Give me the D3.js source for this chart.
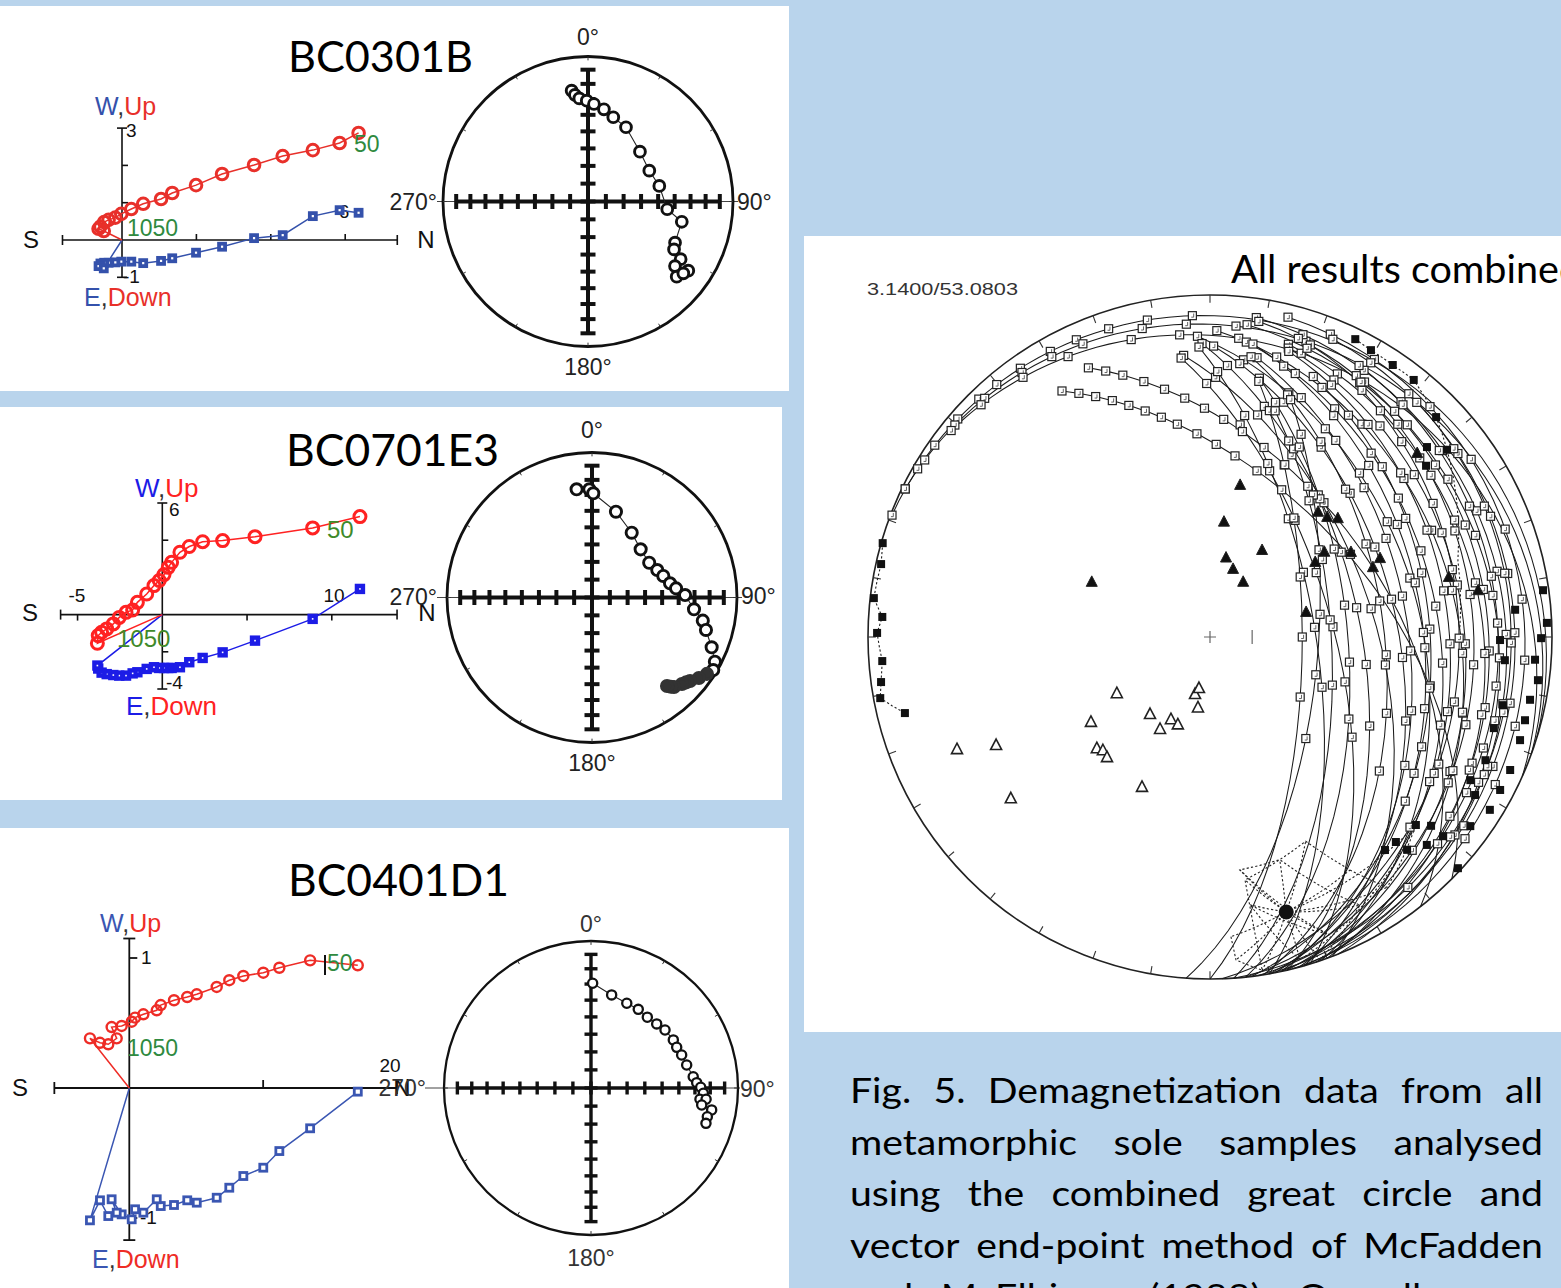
<!DOCTYPE html>
<html>
<head>
<meta charset="utf-8">
<script src="https://cdn.jsdelivr.net/npm/d3@7"></script>
<style>
  html, body { margin: 0; padding: 0; background: #b9d4ec; }
  svg { display: block; }
</style>
</head>
<body>
<svg id="fig" width="1561" height="1288"></svg>
<script>
// ---------------------------------------------------------------
// Specimen BC0301B : orthogonal vector components (steps 50 -> 1050)
// ---------------------------------------------------------------
const b1North = [6.36, 5.85, 5.13, 4.32, 3.55, 2.69, 1.99, 1.35, 1.05, 0.57, 0.25, -0.02, -0.18, -0.36, -0.48, -0.58, -0.63, -0.49];
const b1Up    = [2.87, 2.60, 2.41, 2.25, 2.01, 1.77, 1.47, 1.26, 1.10, 0.97, 0.83, 0.70, 0.60, 0.54, 0.48, 0.36, 0.30, 0.24];
const b1West  = [0.73, 0.80, 0.64, 0.13, 0.05, -0.18, -0.34, -0.49, -0.56, -0.62, -0.58, -0.58, -0.60, -0.61, -0.61, -0.63, -0.70, -0.76];
// directions (declination / inclination, negative = upper hemisphere)
const b1Dec = [351.6, 353.0, 355.2, 359.3, 3.5, 9.8, 16.7, 27.1, 46.2, 63.3, 77.7, 95.6, 102.2, 115.3, 119.1, 121.9, 126.6, 124.6, 130.3, 127.0];
const b1Inc = [-23.8, -26.8, -29.4, -31.1, -33.1, -35.7, -39.2, -42.0, -48.9, -50.9, -48.3, -44.3, -34.2, -34.0, -32.6, -25.7, -26.2, -17.1, -20.9, -18.8];

// ---------------------------------------------------------------
// Specimen BC0701E3
// ---------------------------------------------------------------
const b2North = [11.66, 8.87, 5.47, 3.56, 2.38, 1.59, 1.04, 0.55, 0.35, 0.10, -0.18, -0.49, -0.92, -1.47, -1.75, -2.14, -2.54, -2.89, -3.28, -3.58, -3.78, -3.83];
const b2Up    = [5.27, 4.66, 4.19, 3.98, 3.92, 3.66, 3.35, 2.81, 2.54, 2.15, 1.83, 1.56, 1.11, 0.66, 0.25, 0.12, -0.15, -0.50, -0.77, -0.95, -1.13, -1.54];
const b2West  = [1.38, -0.23, -1.40, -2.03, -2.33, -2.56, -2.83, -2.87, -2.87, -2.87, -2.87, -2.83, -2.92, -3.10, -3.16, -3.28, -3.28, -3.25, -3.20, -3.12, -2.90, -2.74];
const b2Dec = [351.9, 358.6, 0.7, 15.6, 31.5, 45.3, 58.7, 67.2, 73.2, 79.7, 83.8, 88.5, 96.6, 101.8, 105.9, 112.6, 117.6, 120.9, 123.6, 127.0, 130.4, 132.0, 133.9, 137.5, 138.5, 139.7];
const b2Inc = [-25.6, -26.3, -28.9, -38.5, -46.5, -51.0, -51.9, -49.6, -47.4, -44.5, -41.3, -36.0, -29.9, -23.0, -19.4, -11.6, -4.9, -2.9, 5.4, 8.5, 12.2, 13.6, 15.0, 17.4, 19.0, 21.1];

// ---------------------------------------------------------------
// Specimen BC0401D1
// ---------------------------------------------------------------
const b3North = [17.07, 13.51, 11.21, 10.01, 8.52, 7.47, 6.53, 5.04, 4.33, 3.34, 2.35, 2.05, 1.05, 0.43, 0.18, -0.57, -1.32, -0.94, -1.57, -2.19, -2.94];
const b3Up    = [0.944, 0.982, 0.925, 0.887, 0.862, 0.829, 0.777, 0.721, 0.700, 0.675, 0.638, 0.598, 0.567, 0.541, 0.510, 0.477, 0.469, 0.382, 0.336, 0.348, 0.382];
const b3West  = [-0.028, -0.310, -0.485, -0.613, -0.677, -0.767, -0.844, -0.882, -0.864, -0.900, -0.908, -0.856, -0.959, -0.933, -1.010, -0.972, -0.856, -0.959, -0.985, -0.864, -1.018];
const b3Dec = [0.9, 12.5, 22.9, 31.0, 38.5, 45.7, 51.9, 59.7, 64.6, 70.0, 76.5, 83.7, 87.1, 89.6, 92.7, 95.9, 95.6, 98.7, 100.3, 103.9, 107.1];
const b3Inc = [-29.5, -35.4, -37.5, -37.6, -38.4, -37.6, -36.2, -35.4, -35.7, -34.7, -33.5, -30.7, -28.8, -26.3, -24.5, -26.4, -22.4, -24.8, -17.7, -19.6, -19.3];

// ---------------------------------------------------------------
// All specimens combined
// ---------------------------------------------------------------
// remagnetisation great circles: dip direction and dip of each plane
const circleDipDir = [17, 20, 24, 76, 80, 74, 82, 78, 72, 84, 77, 70, 80, 75, 83, 71, 78, 74, 81, 69, 77, 84, 73, 80, 90, 94, 86, 68, 86, 45, 52, 88, 79];
const circleDip    = [7, 10, 14, 9, 12, 15, 17, 20, 22, 24, 27, 29, 31, 34, 36, 39, 42, 45, 48, 51, 54, 57, 61, 65, 68, 64, 61, 18, 13, 52, 48, 28, 38];
// demagnetisation steps on each circle: angle (deg) from the circle's northern end
const circleSteps = [
  [4, 9, 13, 18, 24, 29, 33, 38, 44, 49, 55, 62, 70],
  [6, 12, 20, 27, 35, 41, 47, 58, 66, 75, 88],
  [15, 22, 31, 40, 52, 61, 72, 84, 97],
  [28, 36, 45, 58, 70, 84, 97, 108, 120, 131, 142],
  [33, 41, 52, 64, 77, 88, 99, 112, 124, 136],
  [25, 34, 47, 56, 68, 81, 93, 105, 118, 130, 144],
  [38, 49, 60, 72, 86, 95, 107, 119, 128, 139],
  [22, 30, 43, 53, 66, 79, 92, 104, 115, 126, 137],
  [35, 46, 57, 69, 83, 96, 110, 122, 133],
  [27, 39, 50, 62, 74, 87, 101, 113, 125, 140],
  [31, 42, 55, 67, 80, 91, 103, 117, 129],
  [24, 37, 48, 59, 73, 85, 98, 111, 123, 135],
  [29, 40, 51, 63, 76, 89, 100, 114, 127],
  [26, 38, 49, 61, 72, 84, 96, 108, 121, 133],
  [34, 45, 58, 70, 82, 94, 106, 119, 131],
  [21, 32, 44, 55, 67, 79, 92, 104, 116],
  [28, 41, 53, 65, 77, 90, 102, 115, 127],
  [23, 30, 43, 56, 68, 81, 93, 106, 120],
  [25, 37, 50, 62, 75, 88, 100, 113, 126],
  [24, 33, 46, 58, 71, 84, 97, 110],
  [19, 27, 40, 52, 64, 78, 91, 104, 118],
  [29, 36, 48, 61, 73, 86, 99, 112],
  [22, 31, 44, 57, 70, 83, 96, 109, 122],
  [18, 26, 39, 52, 66, 79, 92, 106],
  [27, 35, 49, 62, 76, 90, 104],
  [31, 40, 55, 68, 83, 97, 112],
  [37, 45, 60, 74, 88, 103],
  [30, 42, 54, 66, 79, 91, 103, 115, 127, 139],
  [44, 57, 69, 82, 95, 108, 120, 133, 145],
  [22, 26, 30, 34, 38, 42, 46, 50, 55, 60, 65, 71, 78],
  [20, 24, 28, 33, 38, 43, 48, 53, 58, 64, 70, 77],
  [37, 50, 64, 78, 92, 105, 118, 132],
  [24, 32, 47, 60, 74, 87, 101, 114, 128]
];
// stable end-point directions (filled squares)
const endDec = [286.0, 282.5, 276.6, 273.5, 270.7, 265.8, 262.2, 259.5, 256.0,
  26.0, 29.3, 33.9, 38.4, 45.8, 48.8, 51.7, 51.6,
  82.0, 87.6, 90.2, 103.1, 107.8, 101.1, 108.4, 113.9, 117.8, 121.7, 120.8, 94.0, 97.5, 104.8,
  90.6, 84.9, 94.5, 114.1, 118.8,
  132.4, 130.5, 130.5, 133.0, 133.8, 137.2, 140.6, 137.8, 126.0];
const endInc = [0.5, 1.7, 1.2, 4.5, 3.0, 4.4, 3.3, 2.2, 8.9,
  3.5, 4.3, 4.7, 4.6, 8.6, 16.8, 12.7, 20.5,
  1.9, 1.6, 3.6, 13.1, 13.9, 5.2, 5.0, 4.5, 4.6, 4.3, 10.7, 5.3, 3.7, 5.3,
  16.3, 11.4, 14.6, 12.8, 14.2,
  19.6, 16.1, 11.3, 1.0, 13.2, 16.3, 20.5, 20.2, 6.6];
// site directions: filled triangles (lower) and open triangles (upper hemisphere)
const triDownDec = [295.0, 6.9, 11.2, 30.9, 11.4, 18.7, 31.0, 75.4, 54.5, 53.3, 40.8, 44.3, 47.1, 58.9, 66.8, 65.1, 48.4, 75.9, 80.1];
const triDownInc = [58.7, 62.2, 52.6, 65.8, 70.7, 72.9, 74.7, 66.3, 59.0, 55.7, 50.0, 49.4, 47.7, 50.2, 47.0, 44.4, 20.1, 28.8, 21.5];
const triUpDec = [238.9, 234.5, 217.9, 205.4, 200.2, 208.5, 194.7, 192.2, 189.7, 225.5, 223.4, 220.6, 204.4, 231.0, 246.1, 243.2];
const triUpInc = [-64.0, -54.8, -66.7, -68.3, -67.8, -65.0, -76.0, -77.6, -73.0, -51.7, -52.4, -51.8, -50.2, -26.0, -20.2, -30.6];
// overall mean direction and its links to nearby circle ends
const meanDec = 164.5, meanInc = 17.7;
const linkDec = [176.0, 175.4, 171.1, 171.8, 154.9, 149.0, 144.7, 132.4, 164.4, 171.5, 158.1, 172.7, 162.6, 150.8, 161.2];
const linkInc = [13.2, 5.9, 1.6, 29.0, 34.4, 21.6, 11.3, 19.6, 2.3, 21.9, 6.9, 31.9, 32.3, 11.1, 0.3];
// dotted end-point traces near the primitive
const traceEastDec = [26.0, 29.3, 33.9, 38.4, 45.8, 57.2, 72.8, 88.4];
const traceEastInc = [3.5, 4.3, 4.7, 4.6, 8.6, 16.3, 25.1, 27.8];
const traceWestDec = [286.0, 282.5, 276.6, 273.5, 270.7, 265.8, 262.2, 259.5, 256.0];
const traceWestInc = [0.5, 1.7, 1.2, 4.5, 3.0, 4.4, 3.3, 2.2, 8.9];

const captionLines = [
  "Fig. 5. Demagnetization data from all",
  "metamorphic sole samples analysed",
  "using the combined great circle and",
  "vector end-point method of McFadden",
  "and McElhinny (1988). Overall mean"
];

// ---------------------------------------------------------------
const svg = d3.select("#fig");
const SANS = "'Liberation Sans', Arial, Helvetica, sans-serif";
const HUMAN = "Lato, 'Open Sans', sans-serif";

// white panels on the blue slide
[[0, 6, 789, 385], [0, 407, 782, 393], [0, 828, 789, 460], [804, 236, 757, 796]].forEach(([x, y, w, h]) =>
  svg.append("rect").attr("x", x).attr("y", y).attr("width", w).attr("height", h).attr("fill", "#ffffff"));

function txt(g, s, x, y, size, opts = {}) {
  return g.append("text").attr("x", x).attr("y", y)
    .attr("font-family", opts.family || SANS).attr("font-size", size)
    .attr("fill", opts.fill || "#111").attr("text-anchor", opts.anchor || "start").text(s);
}

// ---------------- Zijderveld diagram ----------------
function drawZijderveld(s) {
  const g = svg.append("g");
  const x = d3.scaleLinear().domain(s.xDomain).range(s.xRange);
  const y = d3.scaleLinear().domain(s.yDomain).range(s.yRange);
  const x0 = x(0), y0 = y(0);
  const ax = g.append("g").attr("stroke", "#111").attr("stroke-width", s.axisWidth).attr("fill", "none");
  ax.append("line").attr("x1", x(s.xEnds[0])).attr("x2", x(s.xEnds[1])).attr("y1", y0).attr("y2", y0);
  s.xEnds.forEach(v => ax.append("line").attr("x1", x(v)).attr("x2", x(v)).attr("y1", y0 - s.cap).attr("y2", y0 + s.cap));
  s.xTicks.forEach(v => ax.append("line").attr("x1", x(v)).attr("x2", x(v)).attr("y1", y0).attr("y2", y0 + s.xTickDir * s.tick));
  ax.append("line").attr("x1", x0).attr("x2", x0).attr("y1", y(s.yEnds[0])).attr("y2", y(s.yEnds[1]));
  s.yEnds.forEach(v => ax.append("line").attr("x1", x0 - s.cap).attr("x2", x0 + s.cap).attr("y1", y(v)).attr("y2", y(v)));
  s.yTicks.forEach(v => ax.append("line").attr("x1", x0).attr("x2", x0 + s.tick).attr("y1", y(v)).attr("y2", y(v)));

  // axis and step labels
  s.labels.forEach(l => txt(g, l.t, l.x, l.y, l.size, { fill: l.fill, anchor: l.anchor }));
  [[s.wUp, "W", "Up"], [s.eDown, "E", "Down"]].forEach(([p, a, b]) => {
    const t = g.append("text").attr("x", p[0]).attr("y", p[1]).attr("font-family", SANS).attr("font-size", s.compSize);
    t.append("tspan").attr("fill", s.blue).text(a);
    t.append("tspan").attr("fill", "#333").text(",");
    t.append("tspan").attr("fill", s.red).text(b);
  });

  const pts = s.north.map((n, i) => ({ n, up: s.up[i], w: s.west[i] }));
  const path = pts.concat([{ n: 0, up: 0, w: 0 }]);
  g.append("path").attr("d", d3.line().x(d => x(d.n)).y(d => y(d.w))(path))
    .attr("fill", "none").attr("stroke", s.blue).attr("stroke-width", 1.5);
  g.append("path").attr("d", d3.line().x(d => x(d.n)).y(d => y(d.up))(path))
    .attr("fill", "none").attr("stroke", s.red).attr("stroke-width", 1.5);
  g.selectAll(".sq").data(pts).join("rect")
    .attr("x", d => x(d.n) - s.sq / 2).attr("y", d => y(d.w) - s.sq / 2)
    .attr("width", s.sq).attr("height", s.sq)
    .attr("fill", "#fff").attr("stroke", s.blue).attr("stroke-width", s.sqw);
  g.selectAll(".ci").data(pts).join("circle")
    .attr("cx", d => x(d.n)).attr("cy", d => y(d.up)).attr("r", s.cr)
    .attr("fill", "none").attr("stroke", s.red).attr("stroke-width", s.crw);
  s.steps.forEach(l => txt(g, l.t, l.x, l.y, l.size, { fill: s.green }));
  (s.extra || []).forEach(f => f(g));
}

drawZijderveld({
  north: b1North, up: b1Up, west: b1West,
  xDomain: [0, 6], xRange: [122, 345.2], yDomain: [0, 3], yRange: [240, 128.1],
  xEnds: [-1.6, 7.4], yEnds: [3, -1], xTicks: [2, 4, 6], xTickDir: -1, yTicks: [1, 2],
  cap: 5, tick: 6, axisWidth: 1.6,
  blue: "#3451ab", red: "#e8302a", green: "#2f8a3f",
  sq: 6, sqw: 3.8, cr: 5.8, crw: 3, compSize: 25,
  wUp: [95, 115], eDown: [84, 306],
  labels: [
    { t: "S", x: 31, y: 248, size: 24, anchor: "middle" },
    { t: "N", x: 426, y: 248, size: 24, anchor: "middle" },
    { t: "3", x: 126, y: 137, size: 19 },
    { t: "-1", x: 123, y: 283, size: 19 },
    { t: "6", x: 344, y: 218, size: 19, anchor: "middle" }
  ],
  steps: [{ t: "50", x: 354, y: 152, size: 23 }, { t: "1050", x: 127, y: 236, size: 23 }]
});

drawZijderveld({
  north: b2North, up: b2Up, west: b2West,
  xDomain: [0, 10], xRange: [162.3, 331.8], yDomain: [-4, 6], yRange: [689, 503],
  xEnds: [-6, 13.85], yEnds: [6, -4], xTicks: [-5, 5, 10], xTickDir: 1, yTicks: [4, -2],
  cap: 5, tick: 6, axisWidth: 1.6,
  blue: "#1c1ce6", red: "#ff2222", green: "#3f8a2a",
  sq: 6, sqw: 4.4, cr: 6, crw: 3, compSize: 26,
  wUp: [135, 497], eDown: [126, 715],
  labels: [
    { t: "S", x: 30, y: 621, size: 24, anchor: "middle" },
    { t: "N", x: 427, y: 621, size: 24, anchor: "middle" },
    { t: "-5", x: 77, y: 602, size: 19, anchor: "middle" },
    { t: "10", x: 334, y: 602, size: 19, anchor: "middle" },
    { t: "6", x: 169, y: 516, size: 19 },
    { t: "-4", x: 166, y: 689, size: 19 }
  ],
  steps: [{ t: "50", x: 327, y: 538, size: 24 }, { t: "1050", x: 117, y: 647, size: 24 }]
});

drawZijderveld({
  north: b3North, up: b3Up, west: b3West,
  xDomain: [0, 20], xRange: [129.3, 397], yDomain: [-1, 1], yRange: [1218, 958],
  xEnds: [-5.6, 20], yEnds: [1.15, -1.17], xTicks: [10], xTickDir: -1, yTicks: [1, -1],
  cap: 6, tick: 8, axisWidth: 1.8,
  blue: "#3a56b2", red: "#ee2c26", green: "#2f8a3f",
  sq: 7, sqw: 2.8, cr: 5, crw: 2.4, compSize: 25,
  wUp: [100, 932], eDown: [92, 1268],
  labels: [
    { t: "S", x: 20, y: 1096, size: 24, anchor: "middle" },
    { t: "N", x: 402, y: 1096, size: 24, anchor: "middle" },
    { t: "20", x: 390, y: 1072, size: 19, anchor: "middle" },
    { t: "1", x: 141, y: 964, size: 19 },
    { t: "-1", x: 140, y: 1224, size: 19 }
  ],
  steps: [{ t: "50", x: 327, y: 971, size: 23 }, { t: "1050", x: 127, y: 1056, size: 23 }],
  extra: [g => g.append("line").attr("x1", 325).attr("x2", 325).attr("y1", 955).attr("y2", 975)
    .attr("stroke", "#111").attr("stroke-width", 2)]
});

// ---------------- equal-area stereonets ----------------
function netProjection(cx, cy, R) {
  return d3.geoAzimuthalEqualArea().rotate([0, -90]).scale(R / Math.SQRT2).translate([cx, cy]).precision(0.2);
}

function drawNet(s) {
  const g = svg.append("g");
  const proj = netProjection(s.cx, s.cy, s.R);
  const P = (dec, inc) => proj([180 - dec, Math.abs(inc)]);
  g.append("line").attr("x1", s.lineX[0]).attr("x2", s.lineX[1]).attr("y1", s.cy).attr("y2", s.cy)
    .attr("stroke", "#444").attr("stroke-width", 1);
  g.append("circle").attr("cx", s.cx).attr("cy", s.cy).attr("r", s.R)
    .attr("fill", "none").attr("stroke", "#111").attr("stroke-width", s.primW);
  d3.range(0, 360, 30).forEach(az => {
    const a = P(az, 0), b = P(az, 3);
    g.append("line").attr("x1", a[0]).attr("y1", a[1]).attr("x2", b[0]).attr("y2", b[1])
      .attr("stroke", "#333").attr("stroke-width", 1);
  });
  // inclination scale along the N-S and E-W axes
  const ax = g.append("g").attr("stroke", "#111").attr("stroke-width", s.crossW);
  [[0, 180], [270, 90]].forEach(([d1, d2]) => {
    const a = P(d1, 10), b = P(d2, 10);
    ax.append("line").attr("x1", a[0]).attr("y1", a[1]).attr("x2", b[0]).attr("y2", b[1]);
  });
  [0, 90, 180, 270].forEach(az => d3.range(10, 90, 10).forEach(inc => {
    const p = P(az, inc);
    if (az === 0 || az === 180)
      ax.append("line").attr("x1", p[0] - s.arm).attr("x2", p[0] + s.arm).attr("y1", p[1]).attr("y2", p[1]);
    else
      ax.append("line").attr("x1", p[0]).attr("x2", p[0]).attr("y1", p[1] - s.arm).attr("y2", p[1] + s.arm);
  }));
  ax.append("line").attr("x1", s.cx - s.arm).attr("x2", s.cx + s.arm).attr("y1", s.cy).attr("y2", s.cy);
  ax.append("line").attr("x1", s.cx).attr("x2", s.cx).attr("y1", s.cy - s.arm).attr("y2", s.cy + s.arm);

  const pts = s.dec.map((d, i) => ({ d, i: s.inc[i], p: P(d, s.inc[i]) }));
  g.append("path").attr("d", d3.line().x(d => d.p[0]).y(d => d.p[1])(pts))
    .attr("fill", "none").attr("stroke", "#222").attr("stroke-width", 1.1);
  g.selectAll(".pt").data(pts).join("circle")
    .attr("cx", d => d.p[0]).attr("cy", d => d.p[1]).attr("r", s.r)
    .attr("fill", d => d.i >= 0 ? "#333" : "#fff")
    .attr("stroke", d => d.i >= 0 ? "#333" : "#111").attr("stroke-width", s.rw);

  const lc = s.labelColor;
  txt(g, "0°", s.cx, s.labelY[0], s.fs, { anchor: "middle", fill: lc });
  txt(g, "180°", s.cx, s.labelY[1], s.fs, { anchor: "middle", fill: lc });
  txt(g, "90°", s.label90[0], s.label90[1], s.fs, { fill: lc });
  txt(g, "270°", s.label270[0], s.label270[1], s.fs, { anchor: "end", fill: lc });
}

drawNet({ cx: 588, cy: 201.5, R: 145, dec: b1Dec, inc: b1Inc, primW: 2.8, crossW: 4, arm: 7.5, r: 5.4, rw: 2.9,
  lineX: [437, 738], labelY: [45, 375], label90: [737, 210], label270: [437, 210], fs: 23, labelColor: "#222" });
drawNet({ cx: 592, cy: 597.5, R: 145, dec: b2Dec, inc: b2Inc, primW: 2.8, crossW: 4, arm: 7.5, r: 5.6, rw: 2.9,
  lineX: [437, 742], labelY: [438, 771], label90: [741, 604], label270: [437, 605], fs: 23, labelColor: "#222" });
drawNet({ cx: 591, cy: 1088, R: 147, dec: b3Dec, inc: b3Inc, primW: 2.3, crossW: 3.4, arm: 6.5, r: 4.6, rw: 2.3,
  lineX: [425, 740], labelY: [932, 1266], label90: [740, 1097], label270: [426, 1096], fs: 23, labelColor: "#333" });

// ---------------- combined stereonet ----------------
(function drawCombined() {
  const cx = 1210, cy = 637, R = 342;
  const g = svg.append("g");
  const proj = netProjection(cx, cy, R);
  const geo = d3.geoPath(proj);
  const P = (dec, inc) => proj([180 - dec, Math.abs(inc)]);
  const rad = Math.PI / 180;
  const lonlat = ([dec, inc]) => [180 - dec, inc];

  function onPlane(dipDir, dip, theta) {
    const s = (dipDir - 90) * rad, a = dipDir * rad, d = dip * rad, t = theta * rad;
    const S = [Math.cos(s), Math.sin(s), 0];
    const D = [Math.cos(d) * Math.cos(a), Math.cos(d) * Math.sin(a), Math.sin(d)];
    const v = S.map((c, k) => Math.cos(t) * c + Math.sin(t) * D[k]);
    return [(Math.atan2(v[1], v[0]) / rad + 360) % 360, Math.asin(v[2]) / rad];
  }

  g.append("circle").attr("cx", cx).attr("cy", cy).attr("r", R)
    .attr("fill", "none").attr("stroke", "#222").attr("stroke-width", 1.6);
  d3.range(0, 360, 10).forEach(az => {
    const a = P(az, 0), b = P(az, 2.6);
    g.append("line").attr("x1", a[0]).attr("y1", a[1]).attr("x2", b[0]).attr("y2", b[1])
      .attr("stroke", "#333").attr("stroke-width", 1.1);
  });

  // great circles, traced from the first step down to the southern end of each plane
  circleDipDir.forEach((dd, i) => {
    const dp = circleDip[i];
    const start = d3.min(circleSteps[i]);
    const coords = [lonlat(onPlane(dd, dp, start))];
    if (start < 90) coords.push([180 - dd, dp]);
    coords.push([180 - (dd + 90), 0]);
    g.append("path").attr("d", geo({ type: "LineString", coordinates: coords }))
      .attr("fill", "none").attr("stroke", "#1a1a1a").attr("stroke-width", 1.05);
  });

  // dotted traces
  const addDotted = (coords) => g.append("path").attr("d", geo({ type: "LineString", coordinates: coords }))
    .attr("fill", "none").attr("stroke", "#222").attr("stroke-width", 1.1).attr("stroke-dasharray", "2.2,2.2");
  linkDec.forEach((d, i) => addDotted([[180 - meanDec, meanInc], [180 - d, linkInc[i]]]));
  addDotted(linkDec.map((d, i) => [180 - d, linkInc[i]]));
  addDotted(traceEastDec.map((d, i) => [180 - d, traceEastInc[i]]));
  addDotted(traceWestDec.map((d, i) => [180 - d, traceWestInc[i]]));

  // demagnetisation steps (open squares)
  const steps = [];
  circleSteps.forEach((list, i) => list.forEach(th => steps.push(onPlane(circleDipDir[i], circleDip[i], th))));
  steps.forEach(([d, inc]) => {
    const [px, py] = P(d, inc);
    g.append("rect").attr("x", px - 4).attr("y", py - 4).attr("width", 8).attr("height", 8)
      .attr("fill", "#fff").attr("stroke", "#222").attr("stroke-width", 1.2);
    g.append("path").attr("d", `M${px + 1.3},${py - 2.2}V${py + 1.5}H${px - 1.1}`)
      .attr("fill", "none").attr("stroke", "#555").attr("stroke-width", 0.9);
  });

  // end points (filled squares)
  endDec.forEach((d, i) => {
    const [px, py] = P(d, endInc[i]);
    g.append("rect").attr("x", px - 4).attr("y", py - 4).attr("width", 8).attr("height", 8).attr("fill", "#111");
  });

  // site directions
  const tri = (px, py, filled) => g.append("path")
    .attr("d", `M${px},${py - 6}L${px + 5.5},${py + 4.5}L${px - 5.5},${py + 4.5}Z`)
    .attr("fill", filled ? "#111" : "#fff").attr("stroke", "#222").attr("stroke-width", filled ? 1 : 1.6);
  triDownDec.forEach((d, i) => { const p = P(d, triDownInc[i]); tri(p[0], p[1], true); });
  triUpDec.forEach((d, i) => { const p = P(d, triUpInc[i]); tri(p[0], p[1], false); });

  // overall mean
  const m = P(meanDec, meanInc);
  g.append("circle").attr("cx", m[0]).attr("cy", m[1]).attr("r", 7.5).attr("fill", "#111");

  // centre cross and 80° mark on the E axis
  g.append("path").attr("d", `M${cx - 6},${cy}H${cx + 6}M${cx},${cy - 6}V${cy + 6}`)
    .attr("stroke", "#666").attr("stroke-width", 1.2);
  const e80 = P(90, 80);
  g.append("line").attr("x1", e80[0]).attr("x2", e80[0]).attr("y1", e80[1] - 7).attr("y2", e80[1] + 7)
    .attr("stroke", "#666").attr("stroke-width", 1.2);

  txt(g, "3.1400/53.0803", 867, 295, 16, { fill: "#333" })
    .attr("textLength", 151).attr("lengthAdjust", "spacingAndGlyphs");
})();

// ---------------- titles ----------------
function fitted(s, x, y, target, size, measure) {
  const t = txt(svg, measure || s, x, y, size, { family: HUMAN, fill: "#000" });
  const w = t.node().getComputedTextLength();
  t.attr("font-size", size * target / w).text(s);
  return t;
}
fitted("BC0301B", 288, 72, 185, 44);
fitted("BC0701E3", 286, 466, 213, 44);
fitted("BC0401D1", 288, 896, 221, 44);
fitted("All results combined", 1231, 283, 328, 38, "All results combine");

// ---------------- caption (justified, slightly widened glyphs) ----------------
captionLines.forEach((line, i) => {
  const words = line.split(" ");
  const y = 1103 + i * 51.5;
  const nodes = words.map(w => txt(svg, w, 0, y, 35, { family: HUMAN, fill: "#000" }));
  const widths = nodes.map(n => n.node().getComputedTextLength() * 1.12);
  nodes.forEach((n, k) => n.attr("textLength", widths[k]).attr("lengthAdjust", "spacingAndGlyphs"));
  const gap = (693 - d3.sum(widths)) / (words.length - 1);
  let xp = 850;
  nodes.forEach((n, k) => { n.attr("x", xp); xp += widths[k] + gap; });
});
</script>
</body>
</html>
